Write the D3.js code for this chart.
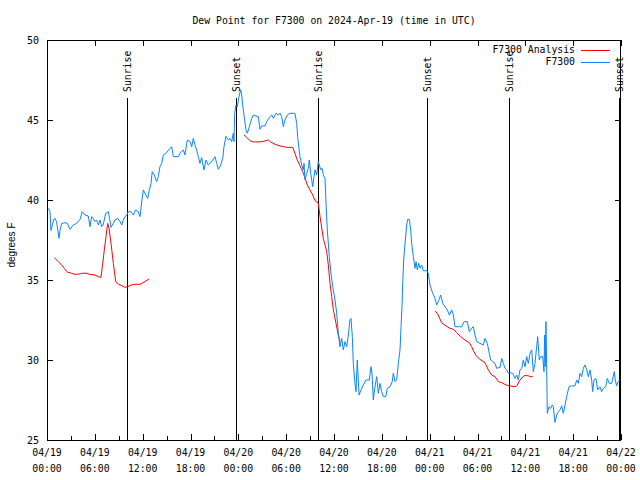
<!DOCTYPE html>
<html><head><meta charset="utf-8">
<script src="https://cdn.jsdelivr.net/npm/d3@7"></script>
<style>body{margin:0;background:#fff} svg{display:block}</style>
</head><body><svg id="c" width="640" height="480"></svg>
<script>
// ---- data (hours since 2024-04-19 00:00 UTC, degrees F) ----
const titleText = "Dew Point for F7300 on 2024-Apr-19 (time in UTC)";
const yLabel = "degrees F";
const yTicks = [25, 30, 35, 40, 45, 50];
const seriesNames = ["F7300 Analysis", "F7300"];
const sunriseHours = [10.0, 34.0, 58.0];
const sunsetHours = [23.7, 47.7, 71.7];

const f7300 = [
[0.16,39.48],[0.38,39.27],[0.5,38.1],[0.67,38.44],[0.83,38.75],[1.0,38.85],[1.2,38.65],[1.5,37.6],[1.63,38.1],[1.84,38.54],
[2.26,38.58],[2.55,38.54],[2.89,38.17],[3.3,38.44],[3.72,38.54],[4.14,38.79],[4.43,39.27],[4.77,39.06],[5.18,39.0],[5.39,38.33],
[5.6,38.96],[5.8,38.85],[6.0,38.65],[6.2,38.75],[6.44,38.44],[6.65,38.75],[6.86,38.33],[7.05,38.44],[7.36,39.17],[7.7,39.27],
[7.85,38.85],[8.03,38.29],[8.32,38.54],[8.53,38.75],[8.87,38.85],[9.16,38.65],[9.37,38.44],[9.57,38.75],[9.78,38.96],[10.0,39.06],
[10.2,39.27],[10.54,39.27],[10.83,39.06],[11.1,39.38],[11.45,39.27],[11.67,38.96],[11.88,39.9],[12.08,40.63],[12.29,40.42],[12.63,40.1],
[12.79,40.52],[13.05,41.04],[13.2,41.77],[13.46,41.56],[13.76,41.15],[13.96,41.46],[14.17,42.08],[14.39,42.29],[14.59,42.81],[15.0,42.96],
[15.43,43.23],[15.64,43.33],[15.85,42.71],[16.5,42.71],[16.68,42.92],[17.1,43.13],[17.3,42.81],[17.6,43.75],[17.94,43.65],[18.15,43.33],
[18.35,43.85],[18.56,43.44],[18.77,43.13],[18.98,42.71],[19.19,42.29],[19.4,42.65],[19.69,41.88],[19.94,42.5],[20.23,42.19],[20.66,42.4],
[21.07,42.71],[21.29,42.29],[21.49,41.92],[21.79,42.19],[22.04,42.6],[22.2,43.33],[22.45,43.98],[22.74,43.75],[22.96,43.85],[23.17,43.65],
[23.37,44.17],[23.46,43.65],[23.54,45.42],[23.7,45.94],[23.87,45.83],[24.12,46.56],[24.3,46.88],[24.42,46.56],[24.55,45.94],[24.71,45.31],
[24.96,44.38],[25.13,44.17],[25.38,44.58],[25.68,45.1],[25.88,45.31],[26.2,45.25],[26.5,45.21],[26.72,44.42],[26.93,44.63],[27.35,44.63],
[27.56,44.9],[27.97,45.21],[28.19,45.31],[28.4,45.1],[28.73,45.42],[29.02,45.31],[29.23,45.42],[29.44,45.21],[29.64,44.58],[29.85,45.0],
[30.14,45.31],[30.48,45.42],[31.1,45.42],[31.32,44.79],[31.44,43.96],[31.6,43.23],[31.74,42.71],[31.95,42.19],[32.15,41.88],[32.24,42.29],
[32.36,41.25],[32.58,41.67],[32.78,41.98],[32.9,42.5],[33.08,41.67],[33.33,40.83],[33.49,41.46],[33.62,41.88],[33.83,41.56],[34.03,42.4],
[34.16,42.19],[34.33,41.88],[34.5,41.98],[34.66,41.56],[34.87,41.35],[35.0,39.79],[35.16,38.13],[35.41,36.46],[35.62,35.42],[35.84,34.58],
[36.13,33.75],[36.34,32.92],[36.54,31.67],[36.75,30.83],[36.97,31.35],[37.17,30.63],[37.38,31.15],[37.6,30.83],[37.8,31.56],[38.0,32.5],
[38.13,32.6],[38.3,31.46],[38.42,29.79],[38.63,28.54],[38.76,28.02],[38.92,30.0],[39.14,27.81],[39.39,28.13],[39.68,28.44],[40.0,28.75],
[40.43,28.75],[40.64,29.58],[40.77,29.17],[40.93,27.5],[41.14,28.33],[41.36,28.96],[41.56,27.92],[41.77,28.54],[41.98,28.02],[42.19,27.71],
[42.49,27.71],[42.69,28.23],[43.03,28.33],[43.31,28.65],[43.44,29.17],[43.65,28.65],[43.86,28.75],[44.07,29.79],[44.28,30.63],[44.41,32.08],
[44.53,33.33],[44.62,34.79],[44.74,36.25],[44.91,37.29],[45.12,38.44],[45.24,38.79],[45.45,38.79],[45.62,38.13],[45.74,37.29],[45.95,36.46],
[46.16,35.73],[46.29,36.15],[46.45,35.63],[46.62,36.04],[46.79,35.73],[47.0,35.94],[47.2,35.58],[47.63,35.58],[47.83,35.42],[48.04,34.69],
[48.38,34.17],[48.67,33.85],[48.88,33.44],[49.08,33.65],[49.38,34.06],[49.64,33.54],[49.92,33.33],[50.22,33.13],[50.47,32.81],[50.77,33.13],
[50.97,32.81],[51.18,32.08],[51.6,32.08],[52.02,32.08],[52.31,32.4],[52.72,32.4],[52.97,31.77],[53.27,31.98],[53.48,32.08],[53.69,31.56],
[53.9,31.15],[54.31,31.04],[54.73,30.94],[54.94,31.35],[55.23,31.04],[55.48,30.42],[55.66,30.0],[55.91,29.9],[56.2,29.79],[56.4,29.48],
[56.83,29.54],[57.04,30.1],[57.24,29.79],[57.45,29.48],[57.66,29.38],[57.87,29.17],[58.08,29.21],[58.42,29.17],[58.71,28.85],[58.92,29.06],
[59.12,28.75],[59.33,29.38],[59.55,29.48],[59.75,30.0],[59.96,29.58],[60.17,30.21],[60.37,29.79],[60.59,30.42],[60.8,30.63],[61.0,29.27],
[61.21,29.79],[61.42,30.83],[61.55,31.46],[61.75,30.0],[61.93,30.21],[62.18,30.21],[62.34,29.27],[62.42,31.56],[62.5,29.58],[62.59,32.4],
[62.68,29.38],[62.76,26.67],[62.97,27.08],[63.18,26.98],[63.38,27.19],[63.51,27.08],[63.72,26.1],[63.93,26.56],[64.14,26.77],[64.35,26.88],
[64.56,27.13],[64.76,26.67],[64.98,27.19],[65.19,27.71],[65.48,28.33],[65.82,28.38],[66.23,28.38],[66.44,28.75],[66.65,28.54],[66.86,29.17],
[67.07,28.96],[67.27,29.48],[67.49,29.69],[67.7,29.38],[67.9,28.96],[68.11,29.38],[68.32,28.75],[68.45,28.02],[68.61,28.75],[68.86,28.85],
[69.07,28.13],[69.35,28.33],[69.57,28.02],[69.78,28.23],[70.08,28.33],[70.28,28.85],[70.53,28.54],[70.83,28.54],[71.03,28.96],[71.16,29.27],
[71.28,28.75],[71.45,28.38],[71.65,28.65],[71.87,28.79]
];

const analysisDay1 = [
[0.92,36.4],[1.42,36.15],[1.84,35.94],[2.17,35.73],[2.59,35.48],[3.09,35.42],[3.51,35.35],[4.14,35.38],[4.35,35.42],[4.98,35.42],
[5.39,35.35],[6.02,35.31],[6.44,35.21],[6.77,35.17],[6.94,35.83],[7.19,36.88],[7.4,37.71],[7.61,38.54],[7.78,38.23],[8.03,37.29],
[8.32,36.04],[8.62,34.9],[8.94,34.75],[9.37,34.65],[9.78,34.54],[10.12,34.58],[10.54,34.69],[11.04,34.73],[11.67,34.73],[12.29,34.9],
[12.79,35.06]
];
const analysisDay2 = [
[24.71,44.06],[25.05,43.92],[25.46,43.71],[25.88,43.63],[26.72,43.63],[27.35,43.69],[27.76,43.75],[28.06,43.63],[28.6,43.48],[29.23,43.38],
[30.07,43.29],[30.82,43.29],[31.1,42.92],[31.4,42.5],[31.74,42.13],[32.07,41.77],[32.36,41.4],[32.65,40.94],[32.99,40.63],[33.33,40.31],
[33.62,39.96],[34.03,39.8],[34.25,38.96],[34.66,37.6],[35.08,36.8],[35.29,35.94],[35.5,34.79],[35.71,33.96],[35.92,33.13],[36.25,32.29],
[36.54,31.56],[36.75,31.15]
];
const analysisDay3 = [
[48.71,33.06],[49.08,32.81],[49.5,32.33],[50.05,32.13],[50.55,31.98],[50.97,31.92],[51.39,31.71],[51.89,31.46],[52.43,31.25],[52.97,31.08],
[53.27,30.83],[53.56,30.52],[53.81,30.28],[54.31,30.04],[54.94,29.83],[55.36,29.38],[55.78,29.06],[56.2,28.96],[56.61,28.65],[57.04,28.58],
[57.58,28.44],[58.08,28.38],[58.71,28.33],[58.92,28.38],[59.33,28.75],[59.83,29.02],[60.37,29.02],[60.59,28.96],[60.93,28.96]
];

// ---- drawing ----
const W = 640, H = 480, m = {l: 47, r: 19, t: 40, b: 40};
const MONO = "'DejaVu Sans Mono', monospace";
const SANS = "'Liberation Sans', Arial, sans-serif";
const RED = "#ff0000", BLUE = "#0a84ff";
const t0 = Date.UTC(2024, 3, 19);
const toDate = h => new Date(t0 + h * 3600e3);

const svg = d3.select("#c");
svg.append("rect").attr("width", W).attr("height", H).attr("fill", "#fff");

const x = d3.scaleUtc().domain([toDate(0), toDate(72)]).range([m.l, W - m.r]);
const y = d3.scaleLinear().domain([25, 50]).range([H - m.b, m.t]);

const major = d3.utcHour.every(6).range(toDate(0), toDate(72.01));
const minor = d3.utcHour.every(3).range(toDate(0), toDate(72.01));

function ticks(g) { g.select(".domain").remove(); g.selectAll("line").attr("stroke", "#000").attr("shape-rendering", "crispEdges"); }

// x ticks bottom/top
svg.append("g").attr("transform", `translate(0,${H - m.b})`)
  .call(d3.axisBottom(x).tickValues(minor).tickSize(-4).tickFormat("")).call(ticks);
svg.append("g").attr("transform", `translate(0,${H - m.b})`)
  .call(d3.axisBottom(x).tickValues(major).tickSize(-6).tickFormat("")).call(ticks);
svg.append("g").attr("transform", `translate(0,${m.t})`)
  .call(d3.axisTop(x).tickValues(major).tickSize(-6).tickFormat("")).call(ticks);

// y ticks left/right
const gy = svg.append("g").attr("transform", `translate(${m.l},0)`)
  .call(d3.axisLeft(y).tickValues(yTicks).tickSize(-6).tickPadding(8).tickFormat(d3.format("d")));
gy.call(ticks);
gy.selectAll("text").attr("font-family", MONO).attr("font-size", 10).attr("fill", "#000");
svg.append("g").attr("transform", `translate(${W - m.r},0)`)
  .call(d3.axisRight(y).tickValues(yTicks).tickSize(-6).tickFormat("")).call(ticks);

// x labels (two lines)
const fmtD = d3.utcFormat("%m/%d"), fmtT = d3.utcFormat("%H:%M");
const xl = svg.append("g").attr("font-family", MONO).attr("font-size", 9.8).attr("text-anchor", "middle");
major.forEach(d => {
  xl.append("text").attr("x", x(d)).attr("y", 456).text(fmtD(d));
  xl.append("text").attr("x", x(d)).attr("y", 472).text(fmtT(d));
});

// sunrise / sunset markers
const sun = [...sunriseHours.map(h => ({h, label: "Sunrise"})), ...sunsetHours.map(h => ({h, label: "Sunset"}))];
sun.forEach(s => {
  const sx = Math.round(x(toDate(s.h))) + 0.5;
  svg.append("line").attr("x1", sx).attr("x2", sx).attr("y1", 98).attr("y2", H - m.b)
    .attr("stroke", "#000").attr("stroke-width", 1).attr("shape-rendering", "crispEdges");
  svg.append("text").attr("transform", `translate(${sx},92) rotate(-90)`).attr("dy", "0.35em")
    .attr("font-family", MONO).attr("font-size", 9.8).attr("text-anchor", "start").text(s.label);
});

// data lines
const line = d3.line().x(d => x(toDate(d[0]))).y(d => y(d[1]));
[analysisDay1, analysisDay2, analysisDay3].forEach(seg => {
  svg.append("path").datum(seg).attr("d", line).attr("fill", "none").attr("stroke", RED).attr("stroke-width", 1);
});
svg.append("path").datum(f7300).attr("d", line).attr("fill", "none").attr("stroke", BLUE).attr("stroke-width", 1);

// border
svg.append("rect").attr("x", m.l + 0.5).attr("y", m.t + 0.5).attr("width", W - m.l - m.r - 1).attr("height", H - m.t - m.b)
  .attr("fill", "none").attr("stroke", "#000").attr("shape-rendering", "crispEdges");

// title
svg.append("text").attr("x", (m.l + W - m.r) / 2).attr("y", 24).attr("text-anchor", "middle")
  .attr("font-family", MONO).attr("font-size", 9.8).text(titleText);

// y label
svg.append("text").attr("transform", `translate(11,245) rotate(-90)`).attr("dy", "0.35em").attr("text-anchor", "middle")
  .attr("font-family", SANS).attr("font-size", 10).text(yLabel);

// legend
const legendColors = [RED, BLUE];
seriesNames.forEach((n, i) => {
  const ly = 50 + i * 12;
  svg.append("text").attr("x", 575).attr("y", ly).attr("dy", "0.35em").attr("text-anchor", "end")
    .attr("font-family", MONO).attr("font-size", 9.8).text(n);
  svg.append("line").attr("x1", 581).attr("x2", 610).attr("y1", ly + 0.5).attr("y2", ly + 0.5)
    .attr("stroke", legendColors[i]).attr("stroke-width", 1);
});
</script></body></html>
